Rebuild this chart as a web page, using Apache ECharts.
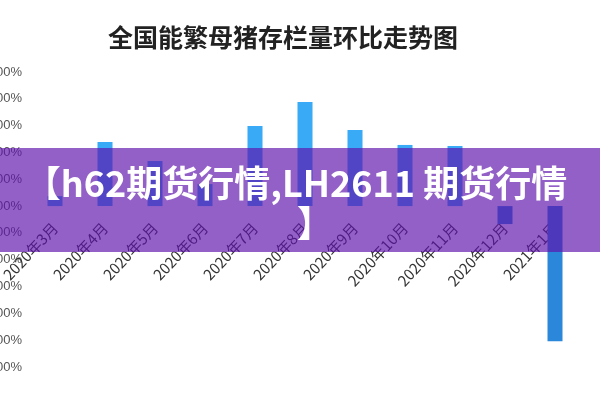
<!DOCTYPE html>
<html>
<head>
<meta charset="utf-8">
<script src="https://cdn.jsdelivr.net/npm/echarts@6/dist/echarts.min.js"></script>
<style>html,body{margin:0;padding:0;background:#fff;}#c{width:600px;height:400px;}</style>
</head>
<body>
<div id="c"></div>
<script>
const titleText = '全国能繁母猪存栏量环比走势图';
const categories = ['2020年3月','2020年4月','2020年5月','2020年6月','2020年7月','2020年8月','2020年9月','2020年10月','2020年11月','2020年12月','2021年1月'];
const values = [0.37, 2.39, 1.68, 0.82, 2.99, 3.88, 2.84, 2.28, 2.24, -0.67, -5.04];
const yMin = -6, yMax = 5, yStep = 1;
const bannerLines = ['【h62期货行情,LH2611 期货行情', '】'];

const gridTop = 72, gridBottom = 33, H = 400;
const plotH = H - gridTop - gridBottom;
const zeroY = gridTop + plotH * yMax / (yMax - yMin);

const chart = echarts.init(document.getElementById('c'), null, {renderer: 'canvas'});
chart.setOption({
  backgroundColor: '#fff',
  animation: false,
  title: {
    text: titleText, left: 103, top: 20,
    textStyle: {fontFamily: 'Noto Sans CJK SC', fontSize: 25, fontWeight: 'bold', color: '#222'}
  },
  grid: [
    {left: 30, right: 20, top: gridTop, bottom: gridBottom, containLabel: false, outerBoundsMode: 'none'},
    {left: 30, right: 20, top: gridTop, height: zeroY - gridTop, containLabel: false, outerBoundsMode: 'none'}
  ],
  xAxis: [
    {type: 'category', data: categories, gridIndex: 0, axisLine: {show: false}, axisTick: {show: false}, axisLabel: {show: false}},
    {type: 'category', data: categories, gridIndex: 1, position: 'bottom',
     axisLine: {show: false}, axisTick: {show: false},
     axisLabel: {rotate: 47, interval: 0, margin: 19, fontSize: 15, color: '#333', fontFamily: 'Noto Sans CJK SC'}}
  ],
  yAxis: [
    {type: 'value', gridIndex: 0, min: yMin, max: yMax, interval: yStep,
     axisLine: {show: false}, axisTick: {show: false}, splitLine: {show: false},
     axisLabel: {formatter: v => v.toFixed(2) + '%', fontSize: 13, color: '#555', margin: 8, fontFamily: 'Liberation Sans'}},
    {type: 'value', gridIndex: 1, show: false, min: 0, max: 1}
  ],
  series: [{
    type: 'bar', data: values, barWidth: 15, xAxisIndex: 0, yAxisIndex: 0,
    itemStyle: {color: p => p.value < 0 ? '#2b87da' : '#38aaf6'}
  }],
  graphic: [
    {type: 'rect', z: 100, shape: {x: 0, y: 148, width: 600, height: 104}, style: {fill: 'rgba(94,18,173,0.67)'}},
    {type: 'text', z: 101, x: 296, y: 183, style: {text: bannerLines[0], fontFamily: 'Noto Sans CJK SC', fontSize: 36, fontWeight: 'bold', fill: '#fff', align: 'center', verticalAlign: 'middle'}},
    {type: 'text', z: 101, x: 315, y: 223, style: {text: bannerLines[1], fontFamily: 'Noto Sans CJK SC', fontSize: 36, fontWeight: 'bold', fill: '#fff', align: 'center', verticalAlign: 'middle'}}
  ]
});
</script>
</body>
</html>
